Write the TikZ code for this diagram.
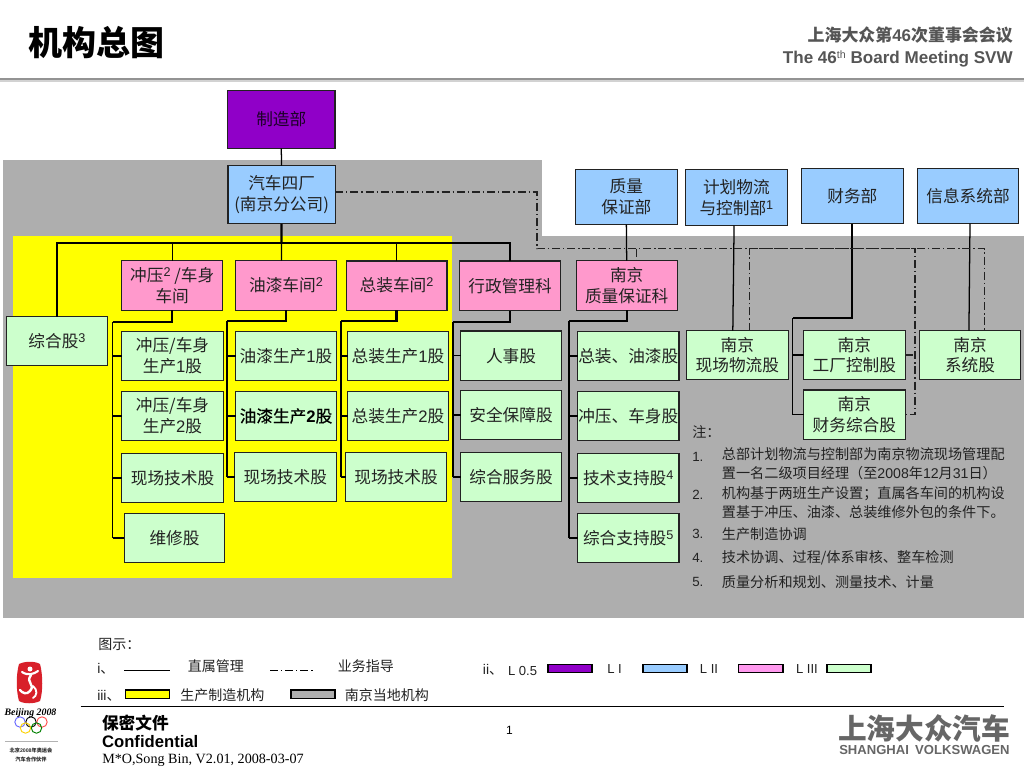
\documentclass[tikz,border=0pt]{standalone}
\usepackage{fontspec}
\setmainfont{Noto Sans CJK SC}
\newfontfamily\lat{Liberation Sans}
\newfontfamily\rom{Liberation Serif}
\newfontfamily\semi[FakeBold=0.6]{Noto Sans CJK SC}
\newcommand\su[1]{\raisebox{.55ex}{\lat\fontsize{9.5}{10}\selectfont #1}}
\newcommand\num[1]{{\lat #1}}
\newcommand\orgbox[7]{%
  \pgfmathsetmacro\obw{(#5-#3)*0.75-0.75}%
  \pgfmathsetmacro\obh{(#6-#4)*0.75-0.75}%
  \node[#2,minimum width=\obw pt,minimum height=\obh pt] (#1) at ({(#3+#5)/2},{(#4+#6)/2}) {#7};}
\definecolor{purp}{HTML}{9000C8}
\definecolor{blu}{HTML}{99CCFF}
\definecolor{pnk}{HTML}{FF99CC}
\definecolor{swpnk}{HTML}{FF99EE}
\definecolor{grn}{HTML}{CCFFCC}
\definecolor{gry}{HTML}{AEAEAE}
\definecolor{ylw}{HTML}{FFFF00}
\definecolor{ink}{HTML}{222222}
\definecolor{hdr}{HTML}{555555}
\definecolor{vwgrey}{HTML}{666666}
\definecolor{bjred}{HTML}{D8202A}
\tikzset{
  base/.style={draw=ink,line width=0.8pt,inner sep=0pt,outer sep=0pt,align=center,text=ink,font=\fontsize{12.5}{15.5}\selectfont},
  lvpurp/.style={base,fill=purp,text=black!80!purp},
  lvblue/.style={base,fill=blu},
  lvpink/.style={base,fill=pnk},
  lvgreen/.style={base,fill=grn},
  solidthin/.style={draw=black,line width=0.95pt},
  solidthick/.style={draw=black,line width=1.7pt},
  guide/.style={draw=ink,line width=0.8pt,dash pattern=on 6pt off 2.2pt on 1pt off 2.2pt},
  note/.style={inner sep=0pt,anchor=west,text=ink,align=left,font=\fontsize{10.6}{14.2}\selectfont},
  notenum/.style={inner sep=0pt,anchor=west,text=ink,font=\lat\fontsize{10}{12}\selectfont},
  legtext/.style={inner sep=0pt,anchor=west,text=ink,font=\fontsize{10.5}{12}\selectfont},
  leglat/.style={inner sep=0pt,anchor=west,text=ink,font=\lat\fontsize{9.8}{12}\selectfont},
  swatch/.style={draw=black,line width=0.8pt},
  hdrtext/.style={inner sep=0pt,anchor=east,text=hdr,font=\lat\bfseries\fontsize{12.8}{14}\selectfont},
}
\begin{document}
\begin{tikzpicture}[x=0.75pt,y=-0.75pt]
\useasboundingbox (0,0) rectangle (1024,768);
\fill[white] (0,0) rectangle (1024,768);
% header
\node[inner sep=0pt,anchor=west,font=\bfseries\fontsize{25.5}{28}\selectfont] (title) at (28,43) {机构总图};
\node[hdrtext,font=\bfseries\fontsize{12.7}{14}\selectfont] (h1) at (1013,35) {上海大众第{\lat 46}次董事会会议};
\node[hdrtext] (h2) at (1013,59) {The 46\raisebox{.5ex}{\fontsize{8}{9}\selectfont\mdseries th} Board Meeting SVW};
\fill[gray!85] (0,77.5) rectangle (1024,80);
\fill[gray!35] (0,80) rectangle (1024,81.5);
% backgrounds
\fill[gry] (3,160) rectangle (542,236);
\fill[gry] (3,236) rectangle (1024,618);
\fill[ylw] (13,236) rectangle (452,578);
% boxes
\orgbox{mfg}{lvpurp}{227}{90}{335.5}{149}{制造部}
\orgbox{f4}{lvblue}{227.5}{165}{335.7}{224.3}{汽车四厂\\({南京分公司})}
\orgbox{qad}{lvblue}{575}{168.7}{677.7}{225}{质量\\保证部}
\orgbox{plan}{lvblue}{685}{169}{787.7}{226}{计划物流\\与控制部\su{1}}
\orgbox{fin}{lvblue}{801}{167.7}{903.7}{224}{财务部}
\orgbox{it}{lvblue}{917}{167.7}{1019}{224}{信息系统部}
\orgbox{p1}{lvpink}{121.4}{260}{223}{310.7}{冲压\su{2} /车身\\车间}
\orgbox{p2}{lvpink}{235}{260}{337}{310.7}{油漆车间\su{2}}
\orgbox{p3}{lvpink}{345.7}{260.5}{447.5}{310.7}{总装车间\su{2}}
\orgbox{p4}{lvpink}{459}{260.5}{561}{311}{行政管理科}
\orgbox{p5}{lvpink}{575.7}{260}{677.7}{310.7}{南京\\质量保证科}
\orgbox{zh}{lvgreen}{6}{316}{108}{366}{综合股\su{3}}
\orgbox{a1}{lvgreen}{121.4}{331}{223.6}{381}{冲压/车身\\生产\num{1}股}
\orgbox{a2}{lvgreen}{121.4}{391}{223.6}{441}{冲压/车身\\生产\num{2}股}
\orgbox{a3}{lvgreen}{121.4}{453}{223.6}{503}{现场技术股}
\orgbox{a4}{lvgreen}{123.7}{513}{225.4}{563}{维修股}
\orgbox{b1}{lvgreen}{235}{331}{337}{381}{油漆生产\num{1}股}
\orgbox{b2}{lvgreen,text=black,font=\semi\fontsize{12.5}{15.5}\selectfont}{235}{391}{337}{441}{油漆生产{\lat\bfseries 2}股}
\orgbox{b3}{lvgreen}{234}{452}{336.6}{502}{现场技术股}
\orgbox{c1}{lvgreen}{347}{331}{449}{381}{总装生产\num{1}股}
\orgbox{c2}{lvgreen}{347}{391}{449}{441}{总装生产\num{2}股}
\orgbox{c3}{lvgreen}{345}{452}{447}{502}{现场技术股}
\orgbox{d1}{lvgreen}{460}{330.5}{562}{381}{人事股}
\orgbox{d2}{lvgreen}{460}{390}{562}{440}{安全保障股}
\orgbox{d3}{lvgreen}{460}{452}{562}{502}{综合服务股}
\orgbox{e1}{lvgreen}{577}{331}{679.5}{381}{总装、油漆股}
\orgbox{e2}{lvgreen}{577}{391}{679.5}{441}{冲压、车身股}
\orgbox{e3}{lvgreen}{577}{453}{679.5}{503}{技术支持股\su{4}}
\orgbox{e4}{lvgreen}{577}{513}{679.5}{563}{综合支持股\su{5}}
\orgbox{log}{lvgreen}{686}{330}{788.7}{380}{南京\\现场物流股}
\orgbox{ctl}{lvgreen}{803}{330}{905.7}{380}{南京\\工厂控制股}
\orgbox{fac}{lvgreen}{803}{389.5}{905.7}{440}{南京\\财务综合股}
\orgbox{sys}{lvgreen}{919}{330}{1021}{380}{南京\\系统股}
% elbows
\coordinate (tr) at (281.6,243);
\coordinate (k1) at (112.5,321.7);
\coordinate (k2) at (227,321);
\coordinate (k3) at (341,321);
\coordinate (k4) at (453,321.7);
\coordinate (k5) at (569,321);
\coordinate (k6) at (792.7,318);
% solid connectors
\draw[solidthin] (mfg.south) -- (f4.north);
\draw[solidthick] (f4.south) -- (tr);
\draw[solidthin] (tr) -- (f4.south |- p2.north);
\draw[solidthin] (zh.north) |- (tr);
\draw[solidthick] (p1.north |- tr) -- (tr);
\draw[solidthin] (p1.north) -- (p1.north |- tr);
\draw[solidthin] (p3.north) |- (tr);
\draw[solidthin] (p4.north) |- (tr);
\foreach \p/\k/\last in {p1/k1/a4,p2/k2/b3,p3/k3/c3,p4/k4/d3,p5/k5/e4}{
  \draw[solidthick] (\p.south) |- (\k);
  \draw[solidthin] (\k) -- (\k |- \last.west);
}
\foreach \k/\c in {k1/a1,k1/a2,k1/a3,k1/a4,k2/b1,k2/b2,k2/b3,k3/c1,k3/c2,k3/c3,k4/d1,k4/d2,k4/d3,k5/e1,k5/e2,k5/e3,k5/e4}{
  \draw[solidthin] (\k |- \c.west) -- (\c.west);
}
\draw[solidthin] (qad.south) -- (p5.north);
\coordinate (planb) at ([xshift=-1.7pt]plan.south);
\coordinate (logt) at ([xshift=-3.4pt]log.north);
\draw[solidthin] (planb) -- (logt);
\draw[solidthick] (fin.south) |- (k6);
\draw[solidthin] (k6) -- (k6 |- fac.west);
\draw[solidthin] (k6 |- ctl.west) -- (ctl.west);
\draw[solidthin] (k6 |- fac.west) -- (fac.west);
\draw[solidthin] ([xshift=1.5pt]it.south) -- ([xshift=-0.8pt]sys.north);
% guidance (dash-dot)
\coordinate (g1) at (537,248.7);
\coordinate (g3) at (915,248.7);
\coordinate (tq) at ([xshift=7.5pt]p5.north);
\coordinate (tl) at ([xshift=9.3pt]log.north);
\coordinate (ts) at ([xshift=11.2pt]sys.north);
\draw[guide] ([yshift=2pt]f4.east) -| (g1) -- (ts |- g1) -- (ts);
\draw[guide] (tq |- g1) -- (tq);
\draw[guide] (tl) |- (g3) |- (fac.east);
\draw[guide] (ctl.east) -- (g3 |- ctl.east);
% notes
\node[note] (nh) at (692,431.7) {注：};
\node[notenum] (n1) at (692,457) {1.};
\node[note] (t1) at (721.7,464) {总部计划物流与控制部为南京物流现场管理配\\置一名二级项目经理（至\num{2008}年\num{12}月\num{31}日）};
\node[notenum] (n2) at (692,495) {2.};
\node[note] (t2) at (721.7,503) {机构基于两班生产设置；直属各车间的机构设\\置基于冲压、油漆、总装维修外包的条件下。};
\node[notenum] (n3) at (692,534) {3.};
\node[note] (t3) at (721.7,534) {生产制造协调};
\node[notenum] (n4) at (692,558) {4.};
\node[note] (t4) at (721.7,558) {技术协调、过程/体系审核、整车检测};
\node[notenum] (n5) at (692,581.7) {5.};
\node[note] (t5) at (721.7,581.7) {质量分析和规划、测量技术、计量};
% legend
\node[legtext] (lg0) at (98,644) {图示：};
\node[legtext] (lg1) at (97,669) {\num{i}、};
\coordinate (l1a) at (124,670.7); \coordinate (l1b) at (170,670.7);
\draw[draw=black,line width=0.8pt] (l1a) -- (l1b);
\node[legtext] (lg2) at (187.5,666) {直属管理};
\coordinate (l2a) at (270,670.7); \coordinate (l2b) at (314,670.7);
\draw[draw=black,line width=0.8pt,dash pattern=on 6pt off 2.2pt on 1pt off 2.2pt] (l2a) -- (l2b);
\node[legtext] (lg3) at (337.5,666) {业务指导};
\node[legtext] (lg4) at (97,696) {\num{iii}、};
\fill[ylw,swatch] (125.7,690) rectangle (169.6,698.7);
\node[legtext] (lg5) at (180,695) {生产制造机构};
\fill[gry,swatch] (291,690) rectangle (335,698.7);
\node[legtext] (lg6) at (344.6,695) {南京当地机构};
\node[legtext] (lg7) at (482.7,670) {\num{ii}、};
\node[leglat] (lg8) at (507.8,671) {L 0.5};
\fill[purp,swatch] (548,664.3) rectangle (592,672.7);
\node[leglat] (lg9) at (607,669) {L I};
\fill[blu,swatch] (643,664.3) rectangle (687,672.7);
\node[leglat] (lg10) at (699.7,669) {L II};
\fill[swpnk,swatch] (738.5,664.3) rectangle (783,672.7);
\node[leglat] (lg11) at (795.8,669) {L III};
\fill[grn,swatch] (827,664.3) rectangle (871,672.7);
% footer
\draw[draw=black,line width=0.8pt] (80.7,706.3) -- (1004,706.3);
\node[inner sep=0pt,anchor=west,text=black,font=\bfseries\fontsize{12.5}{14}\selectfont] (ft1) at (101.8,722.7) {保密文件};
\node[inner sep=0pt,anchor=west,text=black,font=\lat\bfseries\fontsize{12.5}{14}\selectfont] (ft2) at (101.8,742) {Confidential};
\node[inner sep=0pt,anchor=west,text=black,font=\rom\fontsize{10.6}{12}\selectfont] (ft3) at (102,760) {M*O,Song Bin, V2.01, 2008-03-07};
\node[inner sep=0pt,text=black,font=\lat\fontsize{9}{11}\selectfont] (pg) at (509.5,730) {1};
% SVW logo
\node[inner sep=0pt,anchor=west,text=vwgrey,font=\bfseries\fontsize{21.5}{24}\selectfont] (vw1) at (838,728.5) {上海大众汽车};
\node[inner sep=0pt,anchor=west,text=vwgrey,font=\lat\bfseries\fontsize{9.8}{12}\selectfont] (vw2) at (839,750) {SHANGHAI\hspace{2pt} VOLKSWAGEN};
% Beijing 2008 emblem
\fill[bjred] (19,664) .. controls (25,661) and (35,661) .. (40,664) .. controls (43,675) and (43,692) .. (40,701) .. controls (34,704) and (24,704) .. (19,701) .. controls (16,690) and (16,675) .. (19,664) -- cycle;
\fill[white] (30,669) circle (2.5);
\draw[white,line width=1.6pt,line cap=round] (22,672) .. controls (28,676) and (34,674) .. (38,671);
\draw[white,line width=1.8pt,line cap=round] (31,675) .. controls (25,683) and (36,684) .. (30,691) .. controls (27,695) and (22,693) .. (20,690);
\draw[white,line width=1.4pt,line cap=round] (33,686) .. controls (38,690) and (37,696) .. (33,698);
\node[inner sep=0pt,text=black,font=\rom\itshape\bfseries\fontsize{7.4}{8}\selectfont] (bj) at (30.5,712.7) {Beijing 2008};
\foreach \cx/\cy/\cc in {20/722/blue!60!white,31/722/black,42/722/red!70!white,25.5/728/yellow!70!orange,36.5/728/green!50!black}{
  \draw[\cc,line width=0.7pt] (\cx,\cy) circle (5.2);
}
\draw[gray!60,line width=0.5pt] (5,741) -- (58,741);
\node[inner sep=0pt,text=black!85,font=\bfseries\fontsize{3.9}{5}\selectfont] (bj2) at (31,750.7) {北京\num{2008}年奥运会};
\node[inner sep=0pt,text=black!85,font=\bfseries\fontsize{3.9}{5}\selectfont] (bj3) at (31,759) {汽车合作伙伴};
\end{tikzpicture}
\end{document}
